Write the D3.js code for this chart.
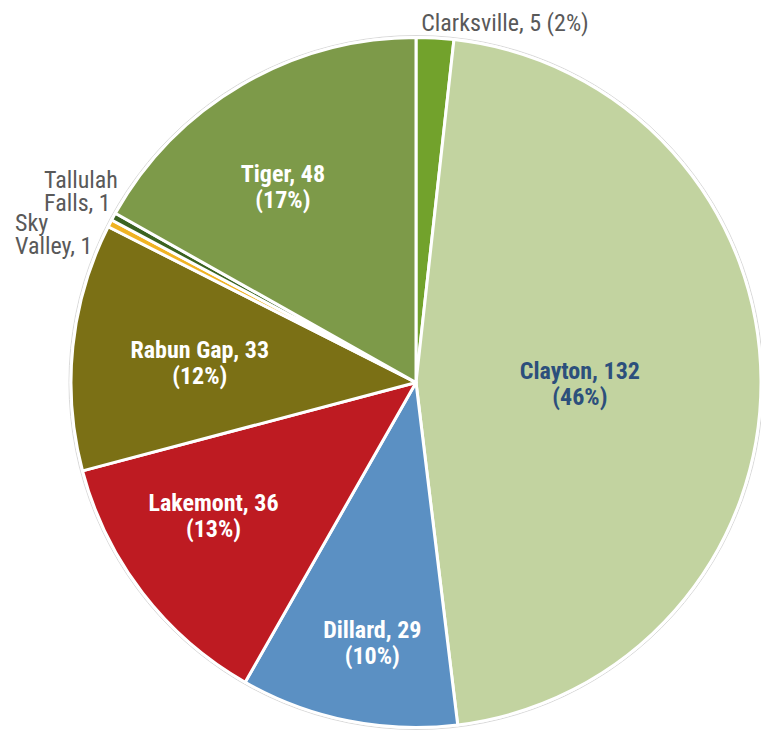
<!DOCTYPE html>
<html><head><meta charset="utf-8">
<script src="https://cdn.jsdelivr.net/npm/d3@7"></script>
<style>
html,body{margin:0;padding:0;background:#fff;}
svg text{font-family:"Roboto Condensed","Liberation Sans Narrow","Roboto",sans-serif;}
</style></head>
<body><svg id="chart" width="761" height="730"></svg>
<script>
const categories = ["Clarksville","Clayton","Dillard","Lakemont","Rabun Gap","Sky Valley","Tallulah Falls","Tiger"];
const values = [5,132,29,36,33,1,1,48];
const colors = ["#72a22c","#c2d3a0","#5b90c3","#be1b22","#7b7015","#f0b323","#3b6321","#7d9a49"];
const total = d3.sum(values);
const data = categories.map((c,i)=>({name:c,value:values[i],color:colors[i]}));

const cx = 416, cy = 382.5, R = 345;
const svg = d3.select("#chart");
const g = svg.append("g").attr("transform",`translate(${cx},${cy})`);

const pie = d3.pie().value(d=>d.value).sort(null);
const arcs = pie(data);
const arc = d3.arc().innerRadius(0).outerRadius(R);

g.append("circle").attr("r",R+2).attr("fill","none").attr("stroke","#d9d9d9").attr("stroke-width",1);

g.selectAll("path.slice").data(arcs).enter().append("path")
  .attr("class","slice")
  .attr("d",arc)
  .attr("fill",d=>d.data.color)
  .attr("stroke","#fff").attr("stroke-width",3).attr("stroke-linejoin","round");

const pct = v => Math.round(v/total*100)+"%";

// inside label layout: [angleDeg, radius fraction]
const inside = {
  "Clayton":[89.7,0.475],
  "Dillard":[189.6,0.76],
  "Lakemont":[237,0.70],
  "Rabun Gap":[275.8,0.63],
  "Tiger":[326,0.69]
};
arcs.forEach(d=>{
  const name = d.data.name;
  if(!inside[name]) return;
  const [ang,rf] = inside[name];
  const a = ang*Math.PI/180, r = rf*R;
  const x = r*Math.sin(a), y = -r*Math.cos(a);
  const t = g.append("text").attr("text-anchor","middle")
    .attr("font-size",24).attr("font-weight",700)
    .attr("fill", name==="Clayton" ? "#2c4f7c" : "#fff");
  t.append("tspan").attr("x",x).attr("y",y-3).text(`${name}, ${d.data.value}`);
  t.append("tspan").attr("x",x).attr("y",y+23).text(`(${pct(d.data.value)})`);
});

// outside labels
const lab = svg.append("g").attr("fill","#595959").attr("font-size",24);
lab.append("text").attr("x",505).attr("y",31).attr("text-anchor","middle")
  .text(`${data[0].name}, ${data[0].value} (${pct(data[0].value)})`);
const tf = lab.append("text");
tf.append("tspan").attr("x",44).attr("y",188).text("Tallulah");
tf.append("tspan").attr("x",44).attr("y",211).text(`Falls, ${data[6].value}`);
const sv = lab.append("text");
sv.append("tspan").attr("x",15).attr("y",231).text("Sky");
sv.append("tspan").attr("x",15).attr("y",254).text(`Valley, ${data[5].value}`);
</script></body></html>
